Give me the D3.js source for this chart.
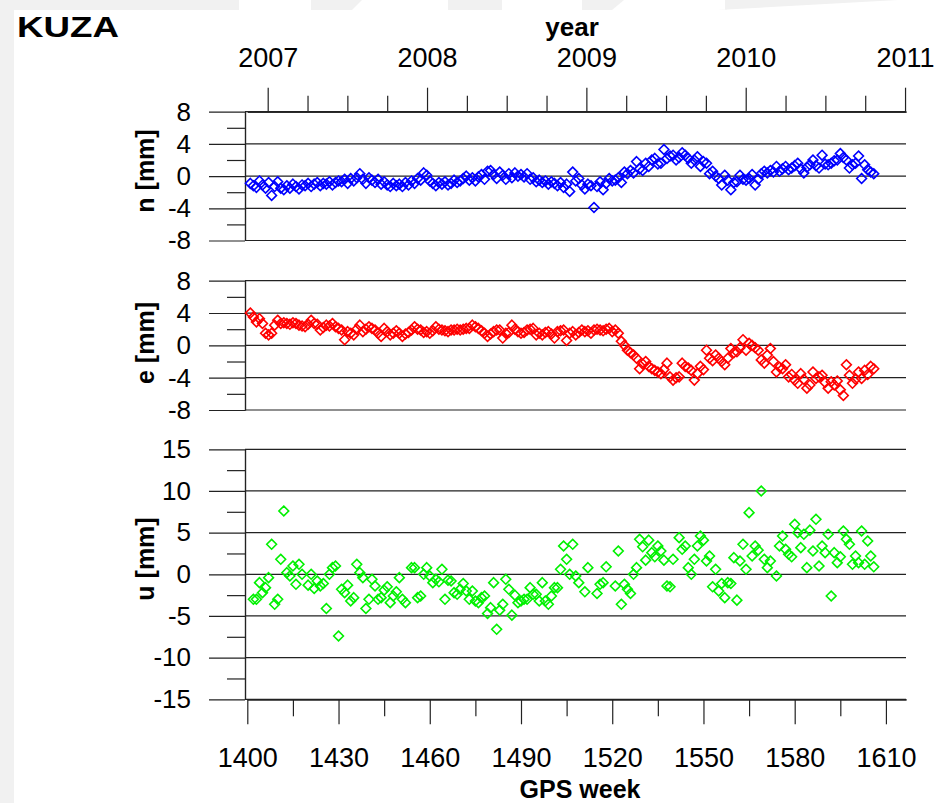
<!DOCTYPE html>
<html lang="en">
<head>
<meta charset="UTF-8">
<title>KUZA</title>
<script src="https://d3js.org/d3.v7.min.js"></script>
<style>
	body { margin: 0; background: #fff; }
	text { font-family: "Liberation Sans", Arial, sans-serif; fill: #000; }
	.bold { font-weight: bold; }
	.grid { stroke: #222; stroke-width: 1.2; }
	.axis path, .axis line { stroke: #222; stroke-width: 1.2; }
</style>
</head>
<body>
<script>
const width = 938;
const height = 803;

// n and e: one solution per GPS week, starting at week 1401
const firstWeek = 1401;
const nValues = [
	-0.9,-1.2,-1.4,-0.6,-1.1,-1.5,-0.8,-2.4,-1.3,-0.7,
	-1.5,-1.7,-1.2,-1.5,-1.0,-1.3,-1.6,-1.1,-1.2,-0.9,
	-1.3,-1.0,-0.8,-1.2,-0.9,-1.0,-0.7,-1.1,-0.8,-0.6,
	-0.7,-0.4,-0.9,-0.3,-0.6,-0.2,0.3,-0.4,-0.9,-0.2,
	-0.5,-0.8,-0.4,-1.0,-0.7,-1.1,-1.3,-0.9,-1.2,-1.0,
	-1.3,-0.8,-1.1,-0.6,-0.9,-0.3,-0.5,0.4,0.1,-0.6,
	-0.9,-1.2,-0.8,-1.0,-0.7,-1.1,-0.9,-0.5,-0.8,-0.6,
	-0.3,0.0,-0.5,-0.2,-0.6,-0.1,0.2,-0.4,0.6,0.7,
	0.2,-0.3,0.5,0.1,-0.4,0.3,-0.2,0.4,0.0,0.2,
	-0.1,0.3,-0.4,-0.2,-0.7,-0.5,-0.8,-0.6,-1.0,-0.7,
	-0.9,-1.2,-0.8,-1.4,-1.0,-1.9,0.5,-0.6,-0.3,-1.1,
	-1.6,-1.0,-1.2,-3.9,-1.3,-0.7,-1.7,-0.9,-0.3,-0.6,
	-0.5,-0.2,-0.8,0.5,0.3,0.7,0.4,1.8,0.9,0.7,
	1.6,1.2,2.0,2.2,1.5,1.6,3.3,2.2,2.5,2.6,
	2.0,2.3,2.9,2.6,2.2,1.6,2.0,2.4,1.2,1.8,
	1.6,0.3,0.6,0.0,-0.3,-1.1,0.1,-0.5,-1.7,-0.8,
	-0.7,0.1,-0.4,-0.5,-0.3,0.2,-1.1,-0.4,0.3,0.6,
	0.4,0.7,0.5,1.2,0.6,0.9,1.2,0.8,1.0,1.3,
	1.6,0.9,0.4,1.1,1.4,2.0,1.3,1.0,2.6,1.5,
	1.4,1.6,1.9,2.0,2.8,2.3,2.0,1.0,1.4,1.6,
	2.5,-0.3,1.4,0.8,0.5,0.3
];
const eValues = [
	4.0,3.5,2.9,3.3,2.7,1.5,1.3,1.5,2.5,3.1,
	2.7,2.8,2.7,2.6,2.8,2.7,2.5,2.4,2.3,2.6,
	3.1,2.7,2.6,1.9,2.2,2.5,2.4,2.7,2.3,2.1,
	1.9,0.7,1.7,1.5,1.3,2.0,2.5,1.7,2.0,2.3,
	2.1,1.9,1.5,1.1,2.1,1.7,1.3,1.5,1.8,1.5,
	1.1,1.4,1.6,1.9,2.3,2.0,1.9,1.6,1.7,1.5,
	1.8,2.3,2.0,1.9,1.8,1.7,1.9,1.9,2.0,1.9,
	2.0,2.1,2.1,2.5,2.3,2.1,1.8,1.5,1.1,1.4,
	1.7,1.9,1.9,0.9,1.5,1.6,2.5,2.0,1.7,1.5,
	1.6,1.9,2.0,2.1,1.3,1.5,1.3,1.6,1.7,1.4,
	0.9,1.7,1.8,1.9,0.6,1.5,1.7,1.3,1.6,1.9,
	1.7,1.8,1.5,1.9,2.0,1.9,1.8,2.0,2.1,1.7,
	1.9,1.5,0.5,0.0,-0.6,-0.9,-1.2,-1.6,-2.9,-2.3,
	-2.0,-2.6,-2.9,-3.1,-3.3,-3.5,-3.0,-2.2,-3.9,-4.3,
	-4.0,-3.9,-2.2,-2.6,-2.8,-3.1,-4.3,-3.5,-2.6,-3.0,
	-0.6,-1.6,-1.9,-1.2,-1.6,-2.0,-2.4,-1.6,-0.4,-0.9,
	-0.8,-0.3,0.7,-0.6,0.25,0.0,-0.3,-0.6,-1.8,-2.2,
	-1.2,-0.4,-2.0,-3.3,-2.7,-2.9,-2.4,-3.9,-3.6,-4.3,
	-4.7,-3.5,-4.2,-5.3,-4.9,-3.3,-4.1,-3.9,-3.7,-4.6,
	-5.3,-4.5,-4.9,-4.4,-5.5,-6.2,-2.4,-3.7,-4.7,-4.2,
	-3.3,-4.1,-3.1,-3.6,-2.6,-2.9
];

// u: weeks read one by one (some weeks missing)
const uWeeks = [
	1402,1403,1404,1405,1406,1407,1408,1409,1410,1411,1412,1413,1414,1415,1416,1417,1418,1420,
	1421,1422,1423,1424,1425,1426,1427,1428,1429,1430,1431,1432,1433,1434,1435,1436,1437,1438,1439,1440,
	1441,1442,1443,1444,1445,1446,1447,1448,1449,1450,1451,1452,1454,1455,1456,1457,1458,1459,1460,
	1461,1462,1463,1464,1465,1466,1467,1468,1469,1470,1471,1472,1473,1474,1475,1476,1477,1478,1479,1480,
	1481,1482,1483,1484,1485,1486,1487,1488,1489,1490,1491,1492,1493,1494,1495,1496,1497,1498,1499,1500,
	1501,1502,1503,1504,1505,1506,1507,1508,1509,1511,1512,1515,1516,1517,1518,
	1521,1522,1523,1524,1525,1526,1527,1528,1529,1530,1531,1532,1533,1534,1535,1536,1537,1538,1539,1540,
	1542,1543,1544,1545,1546,1547,1548,1549,1550,1551,1552,1553,1554,1555,1556,1557,1558,1559,1560,
	1561,1562,1563,1564,1565,1566,1567,1568,1569,1570,1571,1572,1574,1575,1576,1577,1578,1579,1580,
	1581,1582,1583,1584,1585,1586,1587,1588,1589,1590,1591,1592,1593,1594,1595,1596,1597,1598,1599,1600,
	1601,1602,1603,1604,1605,1606
];
const uValues = [
	-3.0,-3.0,-1.0,-2.2,-1.6,-0.4,3.6,-3.6,-3.0,1.8,7.6,0.2,-0.2,1.0,-1.2,1.2,0.0,-1.3,
	0.0,-1.7,-0.8,-1.4,-1.1,-4.1,0.0,0.8,1.0,-7.4,-1.8,-2.2,-1.3,-3.2,-2.8,1.2,0.2,-0.4,-4.1,-3.0,
	-0.6,-1.4,-3.0,-2.8,-1.9,-1.5,-3.4,-2.6,-2.1,-0.4,-3.0,-3.4,0.8,0.8,-2.8,-2.6,0.0,0.8,-0.2,
	-1.0,-0.6,-0.9,0.6,-3.0,-0.7,-0.8,-2.2,-2.4,-1.8,-1.1,-2.0,-3.0,-2.0,-3.2,-3.4,-2.8,-2.6,-4.7,-4.0,
	-1.0,-6.6,-4.3,-3.6,-0.6,-1.8,-4.9,-2.5,-3.4,-3.2,-3.0,-3.0,-1.6,-2.4,-2.4,-3.2,-1.0,-3.2,-3.6,-2.6,
	-1.6,-1.6,0.6,3.4,1.8,0.0,3.6,-0.2,-1.0,-2.1,0.8,-2.3,-1.2,-1.0,0.9,
	-1.4,2.8,-3.6,-1.2,-1.8,-2.3,0.0,0.8,4.2,3.3,1.7,4.1,2.6,2.1,3.4,2.8,1.7,-1.4,-1.5,1.8,
	4.4,3.0,3.4,0.8,0.0,1.8,3.4,4.6,4.1,1.6,2.2,-1.5,0.6,-2.0,-1.1,-2.8,-1.0,-1.1,2.0,
	-3.1,1.6,3.6,0.6,7.4,2.2,3.4,2.9,10.0,1.8,0.8,1.6,-0.2,3.4,4.6,3.0,2.4,2.1,6.0,
	5.0,3.2,4.8,0.8,5.3,2.8,6.6,1.0,3.4,2.6,4.8,-2.6,2.6,1.4,2.1,5.2,4.2,3.6,1.2,2.2,
	1.4,5.2,1.2,4.0,2.2,0.9
];

const yearMajor = [2007, 2008, 2009, 2010, 2011];
const yearMinor = [2007.25, 2007.5, 2007.75, 2008.25, 2008.5, 2008.75, 2009.25, 2009.5, 2009.75, 2010.25, 2010.5, 2010.75];
const weekMajor = [1400, 1430, 1460, 1490, 1520, 1550, 1580, 1610];
const weekMinor = [1415, 1445, 1475, 1505, 1535, 1565, 1595];

const nPoints = nValues.map((v, i) => ({ week: firstWeek + i, value: v }));
const ePoints = eValues.map((v, i) => ({ week: firstWeek + i, value: v }));
const uPoints = uValues.map((v, i) => ({ week: uWeeks[i], value: v }));

// layout
const axisX = 245;
const plotLeft = 247.3;
const plotRight = 906;

const panels = [
	{ label: "n [mm]", data: nPoints, color: "#0000ff", domain: [-8, 8], major: [-8, -4, 0, 4, 8], minor: [-6, -2, 2, 6], top: 111.7, bottom: 240.5, titleY: 171 },
	{ label: "e [mm]", data: ePoints, color: "#ff0000", domain: [-8, 8], major: [-8, -4, 0, 4, 8], minor: [-6, -2, 2, 6], top: 280.7, bottom: 410, titleY: 343 },
	{ label: "u [mm]", data: uPoints, color: "#00f000", domain: [-15, 15], major: [-15, -10, -5, 0, 5, 10, 15], minor: [-12.5, -7.5, -2.5, 2.5, 7.5, 12.5], top: 449.3, bottom: 699.3, titleY: 559 }
];

// plain hyphen minus, as in the original figure
const plainFormat = d => String(d);

const svg = d3.select("body").append("svg")
	.attr("width", width)
	.attr("height", height);

// faint slide background
const bg = svg.append("g").attr("fill", "#f1f1f1");
bg.append("rect").attr("x", 0).attr("y", 0).attr("width", 14).attr("height", height);
[[0, 239, 239], [311, 362, 352], [448, 502, 502], [582, 624, 612], [725, 898, 718]].forEach(([a, b, c]) => {
	bg.append("polygon").attr("points", `${a},0 ${b},0 ${c},10 ${a},10`);
});

const x = d3.scaleLinear().domain([1400, 1616.6]).range([plotLeft, plotRight]);
const yearScale = d3.scaleLinear().domain([2006.872, 2011.006]).range([plotLeft, plotRight]);

function styleAxis(g, size) {
	g.attr("class", "axis")
		.attr("font-family", null)
		.attr("font-size", null);
	g.selectAll("text").style("font-size", size + "px");
}

// top year axis
svg.append("g")
	.attr("transform", `translate(0,${panels[0].top})`)
	.call(d3.axisTop(yearScale).tickValues(yearMinor).tickSize(16).tickSizeOuter(0).tickFormat(""))
	.call(g => styleAxis(g, 27));
svg.append("g")
	.attr("transform", `translate(0,${panels[0].top})`)
	.call(d3.axisTop(yearScale).tickValues(yearMajor).tickSize(24).tickSizeOuter(0).tickPadding(21).tickFormat(plainFormat))
	.call(g => styleAxis(g, 27));

panels.forEach(p => {
	const y = d3.scaleLinear().domain(p.domain).range([p.bottom, p.top]);
	const g = svg.append("g");

	g.selectAll("line.grid")
		.data(p.major)
		.join("line")
		.attr("class", "grid")
		.attr("x1", axisX)
		.attr("x2", plotRight)
		.attr("y1", d => y(d))
		.attr("y2", d => y(d));

	g.append("g")
		.attr("transform", `translate(${axisX},0)`)
		.call(d3.axisLeft(y).tickValues(p.minor).tickSize(18).tickSizeOuter(0).tickFormat(""))
		.call(a => styleAxis(a, 26));
	g.append("g")
		.attr("transform", `translate(${axisX},0)`)
		.call(d3.axisLeft(y).tickValues(p.major).tickSize(36).tickSizeOuter(0).tickPadding(18).tickFormat(plainFormat))
		.call(a => styleAxis(a, 26));

	g.append("text")
		.attr("class", "bold")
		.attr("transform", `translate(154,${p.titleY}) rotate(-90)`)
		.attr("text-anchor", "middle")
		.style("font-size", "25px")
		.text(p.label);

	const r = 4.9;
	g.append("g")
		.selectAll("path")
		.data(p.data)
		.join("path")
		.attr("d", `M0,${-r}L${r},0L0,${r}L${-r},0Z`)
		.attr("transform", d => `translate(${x(d.week)},${y(d.value)})`)
		.attr("fill", "none")
		.attr("stroke", p.color)
		.attr("stroke-width", 1.6);
});

// bottom GPS week axis
const bottomY = panels[2].bottom;
svg.append("g")
	.attr("transform", `translate(0,${bottomY})`)
	.call(d3.axisBottom(x).tickValues(weekMinor).tickSize(17).tickSizeOuter(0).tickFormat(""))
	.call(g => styleAxis(g, 27));
svg.append("g")
	.attr("transform", `translate(0,${bottomY})`)
	.call(d3.axisBottom(x).tickValues(weekMajor).tickSize(25).tickSizeOuter(0).tickPadding(24).tickFormat(plainFormat))
	.call(g => styleAxis(g, 27));

// titles
svg.append("text")
	.attr("class", "bold")
	.attr("x", 17).attr("y", 37)
	.attr("textLength", 102).attr("lengthAdjust", "spacingAndGlyphs")
	.style("font-size", "30px")
	.text("KUZA");
svg.append("text")
	.attr("class", "bold")
	.attr("x", 572).attr("y", 36)
	.attr("text-anchor", "middle")
	.style("font-size", "26px")
	.text("year");
svg.append("text")
	.attr("class", "bold")
	.attr("x", 580).attr("y", 798)
	.attr("text-anchor", "middle")
	.style("font-size", "25px")
	.text("GPS week");
</script>
</body>
</html>
